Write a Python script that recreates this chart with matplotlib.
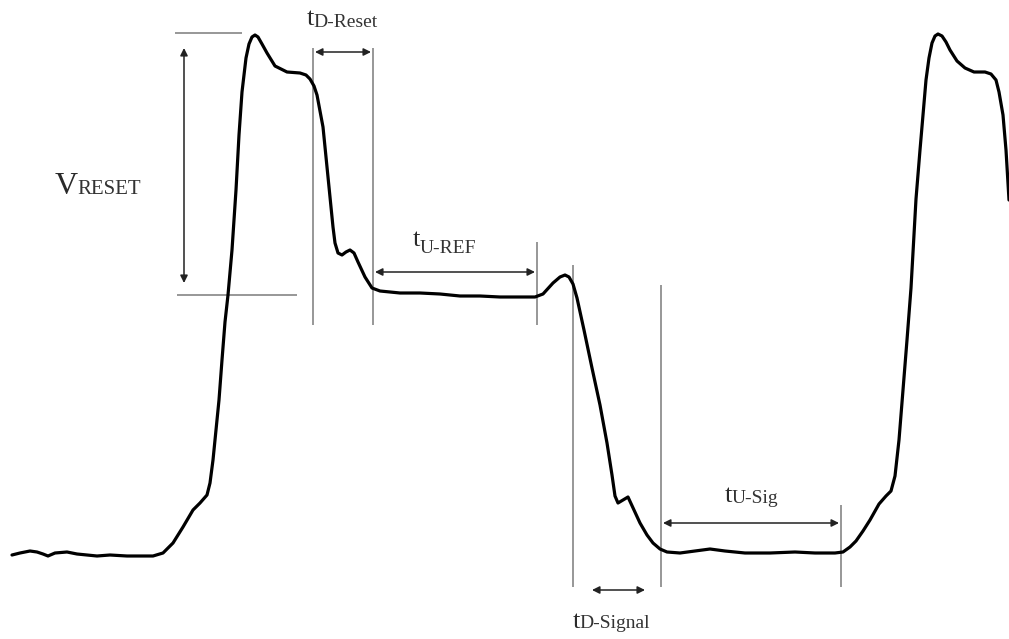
import matplotlib
matplotlib.use("Agg")
import matplotlib.pyplot as plt

# Waveform trace (time, voltage) in picture units
wave_t = [12, 20, 30, 37, 43, 48, 55, 67, 77, 97, 110, 127, 153, 163, 173, 183, 193, 200, 207, 210,
          213, 216, 219, 222, 225, 228, 232, 236, 239, 242, 246, 249, 252, 255, 258, 262, 267, 275, 287, 300,
          306, 310, 314, 317, 323, 328, 333, 335, 338, 342, 346, 350, 354, 358, 365, 372, 380, 400, 420, 440, 460,
          480, 500, 520, 535, 543, 553, 560, 565, 569, 573, 577, 584, 592, 600, 607, 612, 615, 618, 623,
          628, 634, 640, 647, 653, 660, 667, 680, 695, 710, 725, 745, 770, 795, 815, 835, 843, 850,
          856, 863, 870, 879, 886, 891, 895, 899, 903, 907, 911, 916, 920, 923, 926, 929, 932, 935, 938,
          942, 946, 950, 957, 965, 974, 985, 991, 996, 999, 1003, 1006, 1009]
wave_v = [555, 553, 551, 552, 554, 556, 553, 552, 554, 556, 555, 556, 556, 553, 543, 527, 510, 503, 495, 483,
          460, 430, 400, 360, 322, 295, 250, 190, 135, 92, 58, 44, 37, 35, 37, 44, 53, 66, 72, 73,
          75, 79, 86, 95, 127, 177, 227, 243, 253, 255, 252, 250, 253, 262, 277, 288, 291, 293, 293, 294, 296,
          296, 297, 297, 297, 294, 283, 277, 275, 277, 284, 298, 330, 368, 405, 443, 475, 496, 503, 500,
          497, 510, 523, 535, 543, 549, 552, 553, 551, 549, 551, 553, 553, 552, 553, 553, 552, 547,
          541, 531, 520, 504, 496, 491, 476, 440, 390, 340, 288, 199, 150, 115, 80, 58, 43, 36, 34,
          36, 42, 50, 61, 68, 72, 72, 74, 80, 92, 115, 150, 200]

# Marker lines
vline_t = [313, 373, 537, 573, 661, 841]
vline_top = [48, 48, 242, 265, 285, 505]
vline_bot = [325, 325, 325, 587, 587, 587]
hline_v = [33, 295]
hline_t0 = [175, 177]
hline_t1 = [242, 297]

# Interval arrows (start, end, level)
harrow_t0 = [315, 375, 592, 663]
harrow_t1 = [371, 535, 645, 839]
harrow_v = [52, 272, 590, 523]
varrow = (184, 48, 283)

# Labels: main letter, subscript, x, main baseline, sub baseline
lab_main = ["t", "V", "t", "t", "t"]
lab_sub = ["D-Reset", "RESET", "U-REF", "D-Signal", "U-Sig"]
lab_x = [307, 55, 413, 573, 725]
lab_main_base = [25, 194, 246, 628, 502]
lab_sub_base = [27, 194, 253, 628, 503]
lab_main_size = [19, 23, 19, 19, 19]
lab_sub_size = [14, 15, 14, 14, 14]

W, H = 1009, 639
fig = plt.figure(figsize=(W / 100, H / 100), dpi=100)
ax = fig.add_axes([0, 0, 1, 1])
ax.set_xlim(0, W)
ax.set_ylim(H, 0)
ax.axis("off")

gray = "#7a7a7a"
for x, y0, y1 in zip(vline_t, vline_top, vline_bot):
    ax.plot([x, x], [y0, y1], color=gray, lw=1.1, solid_capstyle="butt")
for y, x0, x1 in zip(hline_v, hline_t0, hline_t1):
    ax.plot([x0, x1], [y, y], color=gray, lw=1.1, solid_capstyle="butt")

ap = dict(arrowstyle="<|-|>", color="#222222", lw=1.1, mutation_scale=11,
          shrinkA=0, shrinkB=0)
for x0, x1, y in zip(harrow_t0, harrow_t1, harrow_v):
    ax.annotate("", xy=(x1, y), xytext=(x0, y), arrowprops=ap)
ax.annotate("", xy=(varrow[0], varrow[2]), xytext=(varrow[0], varrow[1]), arrowprops=ap)

ax.plot(wave_t, wave_v, color="black", lw=2.3, solid_joinstyle="round",
        solid_capstyle="round")

fig.canvas.draw()
renderer = fig.canvas.get_renderer()
font = "Liberation Serif"
for m, s, x, yb, ys, ms, ss in zip(lab_main, lab_sub, lab_x, lab_main_base, lab_sub_base,
                                    lab_main_size, lab_sub_size):
    tm = ax.text(x, yb, m, fontsize=ms, family=font, color="#2a2a2a",
                 ha="left", va="baseline")
    bb = tm.get_window_extent(renderer)
    x_end = ax.transData.inverted().transform((bb.x1, bb.y0))[0]
    ax.text(x_end - 1, ys, s, fontsize=ss, family=font, color="#333333",
            ha="left", va="baseline")

fig.savefig("out.png", dpi=100, facecolor="white")
